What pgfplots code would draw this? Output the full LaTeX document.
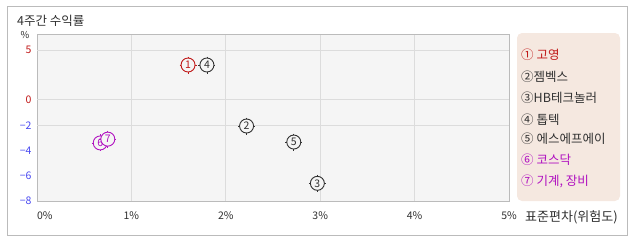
\documentclass[border=0pt]{standalone}
\usepackage{pgfplots}
\pgfplotsset{compat=1.18}
\usepackage{fontspec}
\setmainfont{Noto Sans CJK KR}
\definecolor{redc}{HTML}{C01818}
\definecolor{purc}{HTML}{B010C0}
\definecolor{grayc}{HTML}{303030}
\definecolor{bluec}{HTML}{4848F0}
\definecolor{plotbg}{HTML}{F5F5F5}
\definecolor{gridc}{HTML}{DCDCDC}
\definecolor{legbg}{HTML}{F5E8E0}
\definecolor{framec}{HTML}{BBBBBB}
\begin{document}
\begin{tikzpicture}[x=1bp,y=1bp]
\useasboundingbox (0,0) rectangle (638,242);
\draw[framec, line width=1bp] (7,7) rectangle (627,235);
\node[anchor=west, font=\fontsize{12.5bp}{14bp}\selectfont, text=grayc, inner sep=0] at (17,221) {4주간 수익률};
\node[anchor=center, font=\fontsize{9.5bp}{10bp}\selectfont, text=grayc, inner sep=0] at (25,207) {\%};
\begin{axis}[
  at={(37bp,41bp)}, anchor=south west,
  width=472bp, height=167bp, scale only axis,
  xmin=0, xmax=5, ymin=-8, ymax=6.6,
  y coord trafo/.code={\pgfmathparse{(#1>0)*0.792*#1+(#1<=0)*#1}},
  y coord inv trafo/.code={\pgfmathparse{(#1>0)*#1/0.792+(#1<=0)*#1}},
  axis background/.style={fill=plotbg},
  axis line style={framec, line width=1bp},
  major tick length=0pt,
  xtick={0,1,2,3,4,5},
  xticklabels={\makebox[0pt][l]{0\%},1\%,2\%,3\%,4\%,5\%},
  xmajorgrids, grid style={gridc, line width=1bp},
  ytick={-8,-6,-4,-2,0,5},
  yticklabels={\textcolor{bluec}{−8},\textcolor{bluec}{−6},\textcolor{bluec}{−4},\textcolor{bluec}{−2},\textcolor{redc}{0},\textcolor{redc}{5}},
  extra y ticks={-2,0,5}, extra y tick labels={},
  extra y tick style={grid=major, grid style={gridc, line width=1bp}},
  ticklabel style={font=\fontsize{10.5bp}{11bp}\selectfont, text=grayc},
  yticklabel style={anchor=east, xshift=-2bp},
  xticklabel style={anchor=center, yshift=-15bp},
  clip=false,
]
\addplot[only marks, mark=+, mark size=8.5bp, redc, mark options={line width=0.8bp}] coordinates {(1.60,3.5)};
\addplot[only marks, mark=*, mark size=7bp, redc, mark options={fill=plotbg, line width=0.9bp}, nodes near coords={1}, nodes near coords align=center, every node near coord/.style={font=\fontsize{10.5bp}{10bp}\selectfont, text=redc, anchor=center, inner sep=0}] coordinates {(1.60,3.5)};
\addplot[only marks, mark=+, mark size=8.5bp, grayc, mark options={line width=0.8bp}] coordinates {(1.80,3.5)(2.22,-2.06)(2.97,-6.6)(2.72,-3.33)};
\addplot[only marks, mark=*, mark size=7bp, grayc, mark options={fill=plotbg, line width=0.9bp}, point meta=explicit symbolic, nodes near coords, nodes near coords align=center, every node near coord/.style={font=\fontsize{10.5bp}{10bp}\selectfont, text=grayc, anchor=center, inner sep=0}] coordinates {(1.80,3.5)[4] (2.22,-2.06)[2] (2.97,-6.6)[3] (2.72,-3.33)[5]};
\addplot[only marks, mark=+, mark size=8.5bp, purc, mark options={line width=0.8bp}] coordinates {(0.67,-3.4)};
\addplot[only marks, mark=*, mark size=7bp, purc, mark options={fill=plotbg, line width=0.9bp}, nodes near coords={6}, nodes near coords align=center, every node near coord/.style={font=\fontsize{10.5bp}{10bp}\selectfont, text=purc, anchor=center, inner sep=0}] coordinates {(0.67,-3.4)};
\addplot[only marks, mark=+, mark size=8.5bp, purc, mark options={line width=0.8bp}] coordinates {(0.75,-3.1)};
\addplot[only marks, mark=*, mark size=7bp, purc, mark options={fill=plotbg, line width=0.9bp}, nodes near coords={7}, nodes near coords align=center, every node near coord/.style={font=\fontsize{10.5bp}{10bp}\selectfont, text=purc, anchor=center, inner sep=0}] coordinates {(0.75,-3.1)};
\end{axis}
\node[anchor=west, font=\fontsize{13bp}{14bp}\selectfont, text=grayc, inner sep=0] at (525,25) {표준편차(위험도)};
\fill[legbg, rounded corners=5bp] (517,41) rectangle (620,209);
\begin{scope}[every node/.style={anchor=west, inner sep=0, font=\fontsize{12.5bp}{14bp}\selectfont}]
\node[text=redc] at (521,187) {① 고영};
\node[text=grayc] at (521,165) {②젬벡스};
\node[text=grayc] at (521,144) {③HB테크놀러};
\node[text=grayc] at (521,122) {④ 톱텍};
\node[text=grayc] at (521,103) {⑤ 에스에프에이};
\node[text=purc] at (521,82) {⑥ 코스닥};
\node[text=purc] at (521,61) {⑦ 기계, 장비};
\end{scope}
\end{tikzpicture}
\end{document}
